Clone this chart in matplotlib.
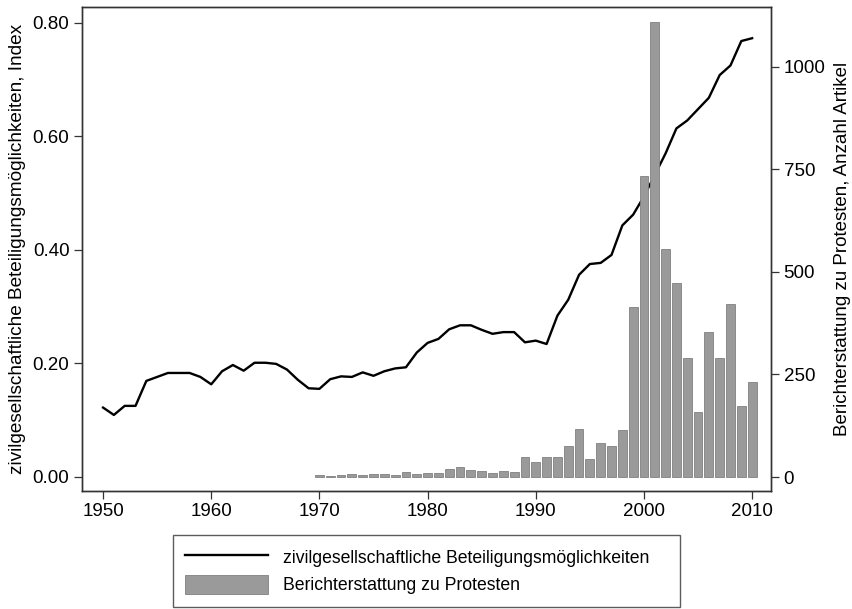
import matplotlib
matplotlib.use("Agg")
import matplotlib.pyplot as plt
from matplotlib.ticker import FormatStrFormatter

plt.rcParams["font.family"] = ["Liberation Sans", "DejaVu Sans"]
plt.rcParams["font.size"] = 13.5

# Index zivilgesellschaftlicher Beteiligungsmöglichkeiten, 1950-2010
years_index = list(range(1950, 2011))
index_values = [
    0.122, 0.109, 0.125, 0.125, 0.169, 0.176, 0.183, 0.183, 0.183, 0.176,
    0.163, 0.186, 0.197, 0.187, 0.201, 0.201, 0.199, 0.189, 0.171, 0.156,
    0.155, 0.172, 0.177, 0.176, 0.184, 0.178, 0.186, 0.191, 0.193, 0.219,
    0.236, 0.243, 0.260, 0.267, 0.267, 0.259, 0.252, 0.255, 0.255, 0.237,
    0.240, 0.234, 0.284, 0.312, 0.356, 0.375, 0.377, 0.391, 0.443, 0.462,
    0.494, 0.532, 0.570, 0.614, 0.628, 0.648, 0.668, 0.708, 0.725, 0.768,
    0.773,
]

# Anzahl Artikel zu Protesten, 1970-2010
years_articles = list(range(1970, 2011))
article_counts = [
    6, 3, 4, 7, 5, 8, 7, 4, 12, 8,
    9, 11, 19, 24, 18, 15, 11, 15, 12, 49,
    36, 49, 48, 76, 117, 45, 83, 76, 114, 414,
    735, 1109, 555, 472, 290, 158, 353, 291, 422, 173,
    232,
]

fig, ax = plt.subplots(figsize=(8.52, 6.09), dpi=100)
fig.subplots_adjust(left=0.0962, right=0.905, top=0.9885, bottom=0.1938)

# Linie (linke Achse)
line, = ax.plot(
    years_index,
    index_values,
    color="black",
    linewidth=1.7,
    label="zivilgesellschaftliche Beteiligungsmöglichkeiten",
)

# Balken (rechte Achse), liegen über der Linie
ax2 = ax.twinx()
bars = ax2.bar(
    years_articles,
    article_counts,
    width=0.82,
    color="#9a9a9a",
    edgecolor="#808080",
    linewidth=0.6,
    label="Berichterstattung zu Protesten",
)

ax.set_xlim(1948.05, 2011.75)
ax.set_ylim(-0.025, 0.828)
ax2.set_ylim(-34, 1146)

ax.set_xticks(range(1950, 2011, 10))
ax.set_yticks([0, 0.2, 0.4, 0.6, 0.8])
ax.yaxis.set_major_formatter(FormatStrFormatter("%.2f"))
ax2.set_yticks([0, 250, 500, 750, 1000])

for a in (ax, ax2):
    a.tick_params(length=6, width=0.9, color="#333333", labelsize=13.5, pad=3)
    for s in a.spines.values():
        s.set_color("#333333")
        s.set_linewidth(1.0)

ax.set_ylabel("zivilgesellschaftliche Beteiligungsmöglichkeiten, Index",
              fontsize=13.7, labelpad=5)
ax2.set_ylabel("Berichterstattung zu Protesten, Anzahl Artikel",
               fontsize=13.5, labelpad=6)

leg = fig.legend(
    handles=[line, bars],
    loc="upper left",
    bbox_to_anchor=(173 / 852, 0, 507 / 852, 1 - 535 / 609),
    mode="expand",
    borderaxespad=0,
    frameon=True,
    fancybox=False,
    edgecolor="#333333",
    handlelength=4.7,
    handleheight=1.3,
    handletextpad=0.85,
    borderpad=0.7,
    labelspacing=0.45,
    fontsize=12.7,
)
leg.get_frame().set_linewidth(1.0)

fig.savefig("out.png", dpi=100)
